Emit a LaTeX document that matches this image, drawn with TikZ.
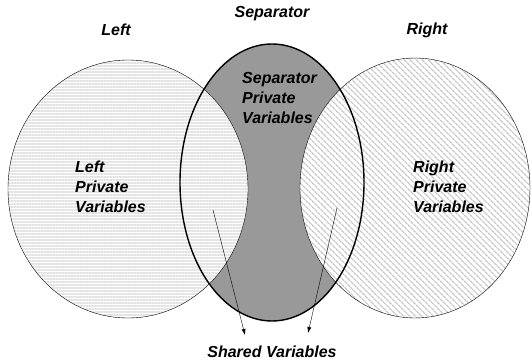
\documentclass[tikz,border=0pt]{standalone}
\usepackage{fontspec}
\setmainfont{Liberation Sans}
\usetikzlibrary{arrows.meta,patterns.meta}

\tikzset{
  lbl/.style={font=\fontsize{16}{20}\selectfont\bfseries\itshape, inner sep=0pt},
  blocklbl/.style={lbl, align=left, anchor=west},
  sharedarrow/.style={-{Latex[length=6pt,width=4pt]}, thin}
}

\begin{document}
\begin{tikzpicture}[x=1pt,y=1pt]
\useasboundingbox (0,0) rectangle (531,360);

% Separator -- gray ellipse in the middle
\fill[gray!80] (272,177.5) ellipse [x radius=92, y radius=138.5];

% Left set -- horizontal lines
\fill[white] (128,171) ellipse [x radius=120, y radius=129];
\fill[pattern={Lines[angle=0,distance=3pt,line width=1.1pt]}, pattern color=black!11]
  (128,171) ellipse [x radius=120, y radius=129];
\draw[thin] (128,171) ellipse [x radius=120, y radius=129];

% Right set -- diagonal lines
\fill[white] (415,172) ellipse [x radius=115, y radius=130];
\fill[pattern={Lines[angle=-45,distance=4pt,line width=1.3pt]}, pattern color=black!22]
  (415,172) ellipse [x radius=115, y radius=130];
\draw[thin] (415,172) ellipse [x radius=115, y radius=130];

% outline of the separator on top
\draw[line width=1.4pt] (272,177.5) ellipse [x radius=92, y radius=138.5];

% Titles
\node[lbl] (septitle) at (272,346) {Separator};
\node[lbl] (lefttitle) at (116,330) {Left};
\node[lbl] (righttitle) at (427,330) {Right};

% Region labels
\node[blocklbl] (seppriv) at (242,262) {Separator\\Private\\Variables};
\node[blocklbl] (leftpriv) at (75,173) {Left\\Private\\Variables};
\node[blocklbl] (rightpriv) at (413,173) {Right\\Private\\Variables};
\node[lbl] (shared) at (272,8) {Shared Variables};

% Arrows from the overlaps
\coordinate (sharedl) at (213,150);
\coordinate (sharedr) at (337,152);
\coordinate (tipl) at (245,25);
\coordinate (tipr) at (308,27);
\draw[sharedarrow] (sharedl) -- (tipl);
\draw[sharedarrow] (sharedr) -- (tipr);

\end{tikzpicture}
\end{document}
